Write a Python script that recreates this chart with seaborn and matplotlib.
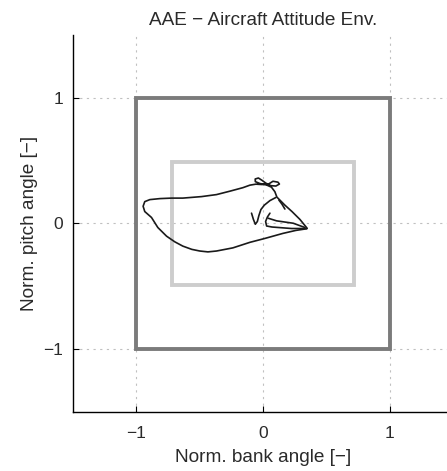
import matplotlib
matplotlib.use("Agg")
import matplotlib.pyplot as plt
import matplotlib.patches as mpatches
import seaborn as sns
import pandas as pd

# ---- data (normalized bank / pitch) ----
seg_main_x = [0.343, 0.258, 0.155, 0.013, -0.105, -0.239, -0.368, -0.436, -0.500, -0.563,
              -0.634, -0.697, -0.762, -0.831, -0.881, -0.934, -0.947, -0.934, -0.894, -0.815,
              -0.723, -0.634, -0.486, -0.368, -0.263, -0.160, -0.105, -0.058, -0.010, 0.041,
              0.077, 0.116, 0.128, 0.100, 0.061, 0.021, -0.010, -0.038, -0.063, -0.062,
              -0.026, 0.021, 0.065, 0.092, 0.108, 0.171, 0.227, 0.290, 0.345]
seg_main_y = [-0.042, -0.055, -0.079, -0.119, -0.150, -0.194, -0.219, -0.226, -0.219, -0.206,
              -0.180, -0.146, -0.101, -0.032, 0.048, 0.095, 0.137, 0.174, 0.190, 0.198,
              0.202, 0.202, 0.214, 0.230, 0.257, 0.285, 0.305, 0.313, 0.310, 0.313,
              0.336, 0.329, 0.314, 0.298, 0.301, 0.321, 0.344, 0.362, 0.354, 0.333,
              0.318, 0.309, 0.289, 0.253, 0.210, 0.146, 0.095, 0.032, -0.036]
seg_tail_x = [0.124, 0.148, 0.171]
seg_tail_y = [0.186, 0.154, 0.115]
seg_root_x = [-0.092, -0.077, -0.062, -0.046, -0.034, -0.018, 0.009, 0.053, 0.100]
seg_root_y = [0.082, 0.032, -0.006, 0.016, 0.063, 0.111, 0.146, 0.182, 0.207]
seg_hook_x = [0.053, 0.033, 0.019, 0.027, 0.069, 0.224, 0.345]
seg_hook_y = [0.082, 0.051, 0.016, -0.020, -0.028, -0.040, -0.040]
seg_inner_x = [0.039, 0.106, 0.237, 0.329]
seg_inner_y = [0.042, 0.021, 0.002, -0.032]

outer_bank, outer_pitch = 1.0, 1.0
inner_bank, inner_pitch = 0.72, 0.49

ticks = [-1, 0, 1]
tick_labels = ["\u22121", "0", "1"]

segments = [(seg_main_x, seg_main_y), (seg_tail_x, seg_tail_y), (seg_root_x, seg_root_y),
            (seg_hook_x, seg_hook_y), (seg_inner_x, seg_inner_y)]
rows = []
for k, (xs, ys) in enumerate(segments):
    for i, (a, b) in enumerate(zip(xs, ys)):
        rows.append({"bank": a, "pitch": b, "seg": k, "order": i})
df = pd.DataFrame(rows)

sns.set_theme(style="white")
plt.rcParams["font.family"] = ["Liberation Sans", "DejaVu Sans"]

fig = plt.figure(figsize=(4.47, 4.71), dpi=100)
ax = fig.add_axes([0.1633, 0.1253, 0.851, 0.8004])

ax.add_patch(mpatches.Rectangle((-outer_bank, -outer_pitch), 2 * outer_bank, 2 * outer_pitch,
                                fill=False, edgecolor="#7b7b7b", lw=2.8, zorder=2))
ax.add_patch(mpatches.Rectangle((-inner_bank, -inner_pitch), 2 * inner_bank, 2 * inner_pitch,
                                fill=False, edgecolor="#cdcdcd", lw=2.8, zorder=2))

sns.lineplot(data=df, x="bank", y="pitch", units="seg", estimator=None, sort=False,
             color="#1a1a1a", lw=1.2, ax=ax, zorder=3)

ax.set_xlim(-1.5, 1.5)
ax.set_ylim(-1.5, 1.5)
ax.set_xticks(ticks)
ax.set_xticklabels(tick_labels)
ax.set_yticks(ticks)
ax.set_yticklabels(tick_labels)
ax.grid(True, color="#c0c0c0", linestyle=(0, (2, 4)), lw=0.8)
ax.set_axisbelow(True)
for s in ["top", "right"]:
    ax.spines[s].set_visible(False)
for s in ["left", "bottom"]:
    ax.spines[s].set_color("black")
    ax.spines[s].set_linewidth(1.0)
ax.tick_params(direction="in", length=4, width=0.8, colors="black", labelsize=12.5,
               left=True, bottom=True)
ax.tick_params(axis="x", pad=10)
ax.tick_params(axis="y", pad=7)
for lab in ax.get_xticklabels() + ax.get_yticklabels():
    lab.set_color("#2a2a2a")
ax.set_xlabel("Norm. bank angle [\u2212]", fontsize=13.7, color="#2a2a2a", labelpad=6)
ax.set_ylabel("Norm. pitch angle [\u2212]", fontsize=13.7, color="#2a2a2a", labelpad=4)
ax.set_title("AAE \u2212 Aircraft Attitude Env.", fontsize=13.7, color="#2a2a2a", pad=7)

fig.savefig("out.png", dpi=100)
